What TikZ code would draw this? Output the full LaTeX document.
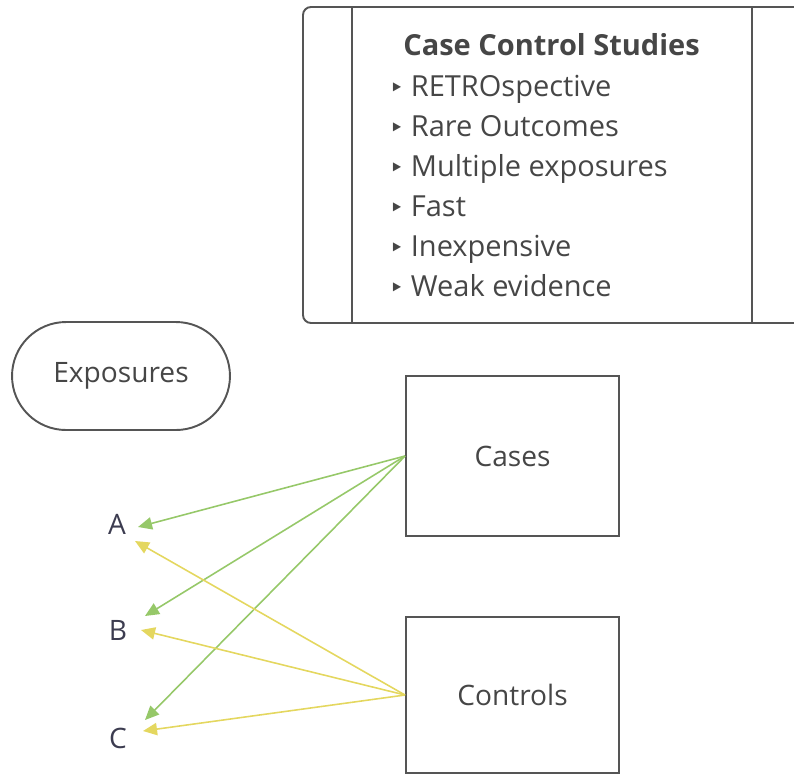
\documentclass[tikz,border=0pt]{standalone}
\usepackage{fontspec}
\setmainfont{Open Sans}
\newfontfamily\symfont{DejaVu Sans}
\usepackage{xcolor}
\usetikzlibrary{arrows.meta}
\definecolor{boxline}{RGB}{85,85,85}
\definecolor{boxtext}{RGB}{70,70,70}
\definecolor{exptext}{RGB}{60,60,80}
\definecolor{casearr}{RGB}{150,200,105}
\definecolor{ctrlarr}{RGB}{228,215,95}
\newcommand{\bul}{{\symfont\fontsize{14}{14}\selectfont ‣}\hspace{4pt}}
\tikzset{
  frame/.style   ={draw=boxline, line width=1.1pt},
  grp/.style     ={frame, minimum width=4.26cm, inner sep=0pt, font=\fontsize{16}{19}\selectfont, text=boxtext},
  item/.style    ={anchor=base west, inner sep=0pt, font=\fontsize{16.5}{19}\selectfont, text=boxtext},
  lbl/.style     ={inner sep=1pt, font=\fontsize{16}{19}\selectfont, text=boxtext},
  casel/.style   ={draw=casearr, line width=0.9pt, -{Triangle[length=8pt,width=7pt]}},
  ctrll/.style   ={draw=ctrlarr, line width=0.9pt, -{Triangle[length=8pt,width=7pt]}},
}
\begin{document}
\begin{tikzpicture}[x=0.02cm, y=-0.02cm]
  \useasboundingbox (0,0) rectangle (794,775);
  \clip (0,0) rectangle (794,775);
  % summary panel
  \draw[frame, rounded corners=0.16cm] (303,7) rectangle (810,323);
  \draw[frame] (352,7) -- (352,323);
  \draw[frame] (752,7) -- (752,323);
  \node[item, font=\fontsize{16.5}{19}\selectfont\bfseries] (title) at (403,55) {Case Control Studies};
  \node[item] (it1) at (389,96)  {\bul RETROspective};
  \node[item] (it2) at (389,136) {\bul Rare Outcomes};
  \node[item] (it3) at (389,176) {\bul Multiple exposures};
  \node[item] (it4) at (389,216) {\bul Fast};
  \node[item] (it5) at (389,256) {\bul Inexpensive};
  \node[item] (it6) at (389,296) {\bul Weak evidence};
  % groups
  \node[frame, minimum width=4.36cm, minimum height=2.16cm, rounded corners=1.08cm,
        lbl] (expo) at (121,376) {Exposures};
  \node[grp, minimum height=3.2cm] (cases) at (512.5,456) {Cases};
  \node[grp, minimum height=3.12cm] (ctrls) at (512.5,695) {Controls};
  % exposures
  \node[lbl, text=exptext] (A) at (117,524) {A};
  \node[lbl, text=exptext] (B) at (118,630) {B};
  \node[lbl, text=exptext] (C) at (118,738) {C};
  \coordinate (Ag) at (138,527);
  \coordinate (Ay) at (135,541);
  \coordinate (Bg) at (145,616);
  \coordinate (By) at (141,630);
  \coordinate (Cg) at (145,720);
  \coordinate (Cy) at (143,731);
  \draw[casel] (cases.west) -- (Ag);
  \draw[casel] (cases.west) -- (Bg);
  \draw[casel] (cases.west) -- (Cg);
  \draw[ctrll] (ctrls.west) -- (Ay);
  \draw[ctrll] (ctrls.west) -- (By);
  \draw[ctrll] (ctrls.west) -- (Cy);
\end{tikzpicture}
\end{document}
